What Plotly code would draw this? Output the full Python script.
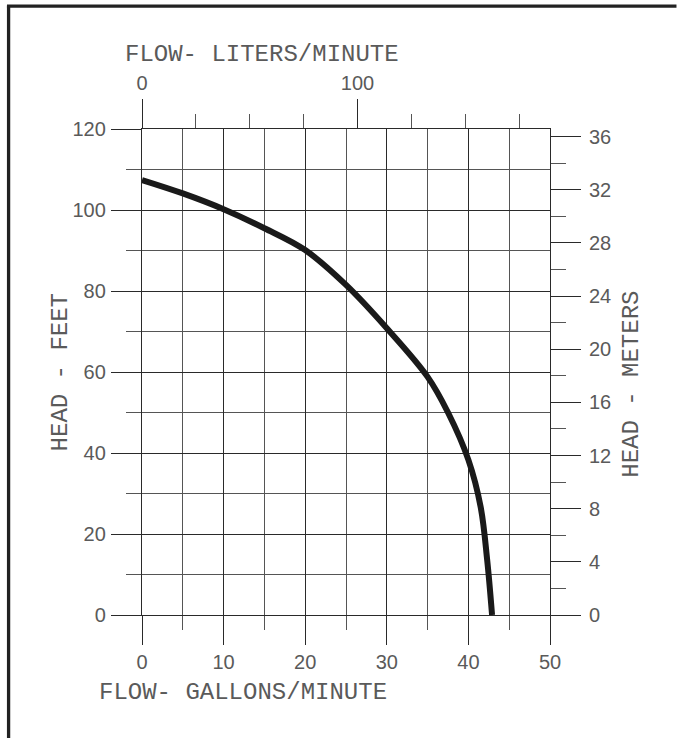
import plotly.graph_objects as go

# Pump curve (flow in US gallons/minute, head in feet)
flow_gpm = [0, 5, 10, 15, 20, 25, 30, 35, 37.5, 40, 41.5, 42.3, 42.9]
head_ft = [107.4, 104.1, 100.2, 95.5, 90.1, 81.5, 70.8, 58.8, 50.0, 38.3, 26.7, 13.6, 0]

GAL_TO_L = 3.78541
FT_TO_M = 0.3048
flow_lpm = [g * GAL_TO_L for g in flow_gpm]
head_m = [h * FT_TO_M for h in head_ft]

x_range = [0, 50]
y_range = [0, 120]

TICK_FONT = dict(family="Liberation Sans, Arial, sans-serif", size=20, color="#5a5a5a")
TITLE_FONT = dict(family="Liberation Mono, DejaVu Sans Mono, monospace", size=24, color="#5a5a5a")
DARK = "#2a2a2a"
MINOR = "#555555"

fig = go.Figure()
fig.add_trace(go.Scatter(x=flow_gpm, y=head_ft, mode="lines",
                         line=dict(color="#1a1a1a", width=6, shape="spline", smoothing=1.0),
                         hoverinfo="skip", showlegend=False))
# same curve in metric units, on the secondary axes (invisible, keeps axes alive)
fig.add_trace(go.Scatter(x=flow_lpm, y=head_m, xaxis="x2", yaxis="y2", mode="lines",
                         line=dict(color="rgba(0,0,0,0)", width=0),
                         hoverinfo="skip", showlegend=False))

fig.update_layout(
    width=677, height=738,
    margin=dict(l=142, r=127, t=129, b=123),
    paper_bgcolor="white", plot_bgcolor="white",
    showlegend=False,
    xaxis=dict(range=x_range, tick0=0, dtick=10, ticks="outside", ticklen=29, tickwidth=1.3,
               tickcolor=DARK, showgrid=True, gridcolor=DARK, gridwidth=1.3,
               showline=True, linecolor=DARK, linewidth=1.3, mirror=True, zeroline=False,
               tickfont=TICK_FONT, ticklabelstandoff=0,
               minor=dict(dtick=5, ticks="outside", ticklen=14, tickcolor=MINOR, tickwidth=1,
                          showgrid=True, gridcolor=MINOR, gridwidth=1)),
    yaxis=dict(range=y_range, tick0=0, dtick=20, ticks="outside", ticklen=30, tickwidth=1.3,
               tickcolor=DARK, showgrid=True, gridcolor=DARK, gridwidth=1.3,
               showline=True, linecolor=DARK, linewidth=1.3, mirror=True, zeroline=False,
               tickfont=TICK_FONT, ticklabelstandoff=1,
               minor=dict(dtick=10, ticks="outside", ticklen=15, tickcolor=MINOR, tickwidth=1,
                          showgrid=True, gridcolor=MINOR, gridwidth=1)),
    xaxis2=dict(range=[x_range[0] * GAL_TO_L, x_range[1] * GAL_TO_L], overlaying="x", side="top",
                anchor="y", tick0=0, dtick=100, ticks="outside", ticklen=29, tickwidth=1.3,
                tickcolor=DARK, showgrid=False, showline=False, zeroline=False,
                tickfont=TICK_FONT, ticklabelstandoff=1,
                minor=dict(dtick=25, ticks="outside", ticklen=14, tickcolor=MINOR, tickwidth=1,
                           showgrid=False)),
    yaxis2=dict(range=[y_range[0] * FT_TO_M, y_range[1] * FT_TO_M], overlaying="y", side="right",
                anchor="x", tick0=0, dtick=4, ticks="outside", ticklen=30, tickwidth=1.3,
                tickcolor=DARK, showgrid=False, showline=False, zeroline=False,
                tickfont=TICK_FONT, ticklabelstandoff=4,
                minor=dict(dtick=2, ticks="outside", ticklen=15, tickcolor=MINOR, tickwidth=1,
                           showgrid=False)),
)

annotations = [
    dict(text="FLOW- GALLONS/MINUTE", x=0.247, y=-0.16),
    dict(text="FLOW- LITERS/MINUTE", x=0.294, y=1.154),
    dict(text="HEAD - FEET", x=-0.2, y=0.5, textangle=-90),
    dict(text="HEAD - METERS", x=1.2, y=0.475, textangle=-90),
]
for a in annotations:
    fig.add_annotation(xref="paper", yref="paper", showarrow=False,
                       xanchor="center", yanchor="middle", font=TITLE_FONT, **a)

# drawing frame (left and top edges visible)
FRAME = dict(color="#222222", width=3.3)
fig.add_shape(type="line", xref="paper", yref="paper",
              x0=-0.327, y0=-0.3, x1=-0.327, y1=1.2528, line=FRAME)
fig.add_shape(type="line", xref="paper", yref="paper",
              x0=-0.331, y0=1.2528, x1=1.31, y1=1.2528, line=FRAME)

fig.write_html("out.html", config={"displayModeBar": False},
               post_script="document.body.style.margin='0';document.body.style.overflow='hidden';")
